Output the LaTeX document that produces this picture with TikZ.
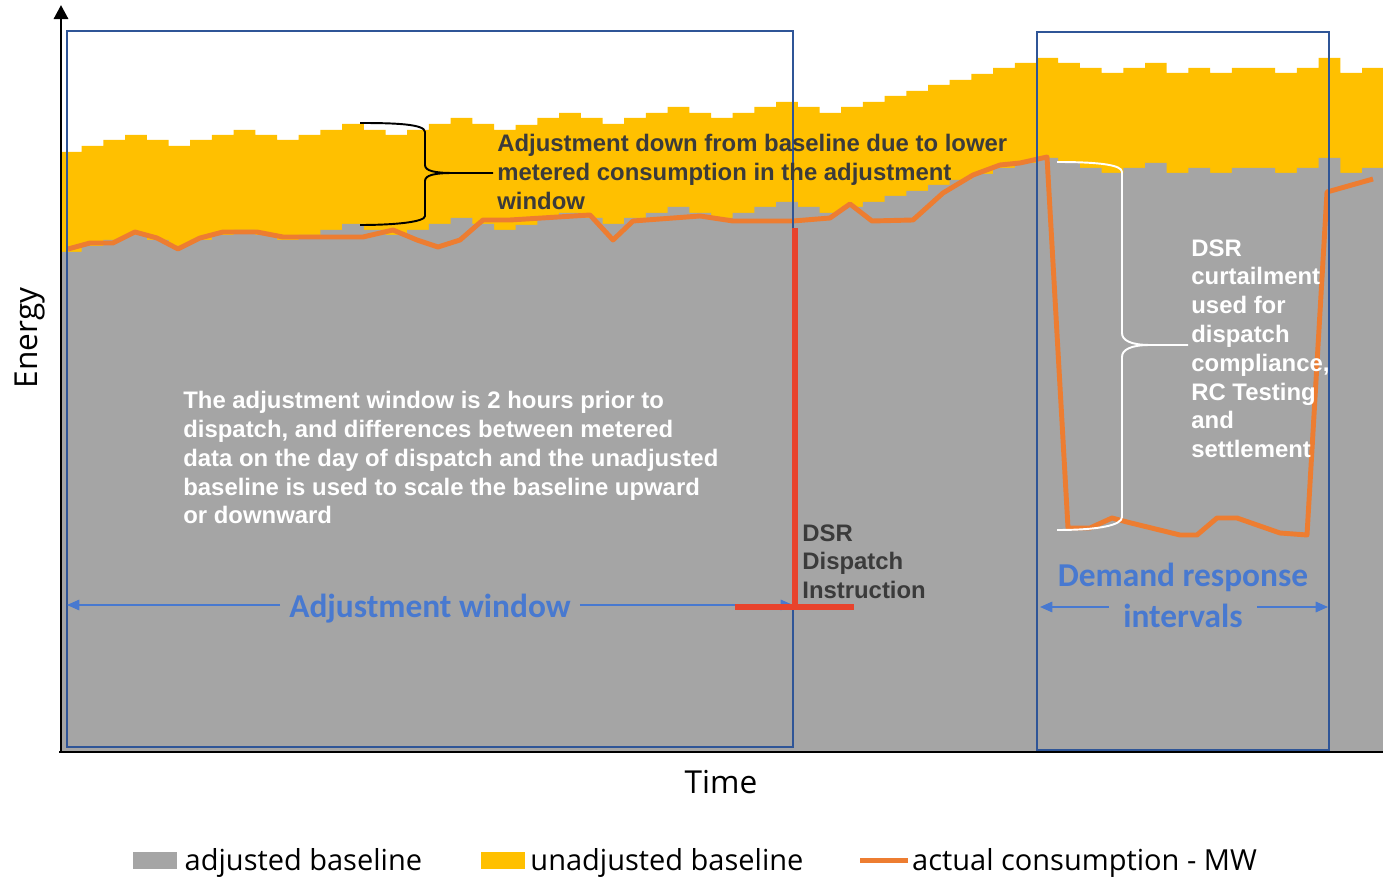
\documentclass[tikz,border=0pt]{standalone}
\usepackage{fontspec}
\setmainfont{Liberation Sans}
\newfontfamily\carlito{Carlito}
\newfontfamily\opensans{Open Sans}
\usetikzlibrary{arrows.meta, positioning}
\definecolor{ubase}{RGB}{255,192,0}
\definecolor{abase}{RGB}{165,165,165}
\definecolor{actual}{RGB}{237,125,49}
\definecolor{dsrred}{RGB}{232,67,44}
\definecolor{winblue}{RGB}{47,85,151}
\definecolor{lblblue}{RGB}{72,121,208}
\definecolor{darktext}{RGB}{59,59,59}
\begin{document}
\begin{tikzpicture}[
    x=0.02cm, y=-0.02cm,
    note/.style={anchor=north west, inner sep=0pt, align=left, font=\bfseries\fontsize{13.6}{16.4}\selectfont},
    bluelabel/.style={text=lblblue, inner ysep=0pt, inner xsep=5pt, font=\carlito\bfseries\fontsize{19}{22}\selectfont},
    window/.style={draw=winblue, line width=1.1pt},
    span/.style={draw=lblblue, line width=0.8pt, -{Triangle[length=7pt, width=6pt]}},
    dsrmark/.style={draw=dsrred, line width=3.3pt},
    axis/.style={line width=1.7pt},
    axislabel/.style={font=\opensans\fontsize{18}{20}\selectfont},
    legendkey/.style={inner sep=0pt, minimum width=0.88cm, minimum height=0.34cm},
    legendtext/.style={inner sep=0pt, font=\opensans\fontsize{16.5}{18}\selectfont},
    brace/.style={line width=1.1pt}
]
\useasboundingbox (0,0) rectangle (1383,881);

% baseline profiles
\def\tops{152,146,140,135,140,146,140,135,130,135,140,135,130,124,130,135,130,124,118,124,
  130,125,118,113,118,124,118,113,107,113,118,113,107,102,107,113,107,102,96,91,
  85,80,74,68,63,58,63,68,73,68,63,73,68,73,68,68,73,68,58,73,68}
\fill[ubase] (62,752) \foreach \t [count=\k from 0] in \tops
  { -- ({max(62,60+21.7*\k)},\t) -- ({60+21.7*(\k+1)},\t) } -- (1383,752) -- cycle;
\fill[abase] (62,752) \foreach \t [count=\k from 0] in \tops
  { -- ({max(62,60+21.7*\k)},{\t+100}) -- ({60+21.7*(\k+1)},{\t+100}) } -- (1383,752) -- cycle;

\draw[actual, line width=2.8pt, line join=round] plot coordinates {
  (68,249) (90,243) (113,243) (135,232) (157,238) (178,249) (200,238) (223,232)
  (257,232) (283,237) (323,237) (363,237) (393,230) (417,240) (438,247) (460,240)
  (483,220) (510,220) (590,215) (613,240) (633,221) (700,216) (733,221) (793,221)
  (830,218) (850,204) (872,221) (913,220) (943,193) (973,175) (1000,165) (1020,163)
  (1047,157) (1068,528) (1090,528) (1112,518) (1127,522) (1180,535) (1197,535)
  (1217,518) (1237,518) (1280,533) (1307,535) (1327,192) (1373,179)};

\draw[window] (67,31) rectangle (793,747);
\draw[window] (1037,32) rectangle (1329,750);

\node[bluelabel] (awlabel) at (430,609) {Adjustment window};
\coordinate (awl) at (67,605);
\coordinate (awr) at (793,605);
\draw[span] (awlabel.west |- awl) -- (awl);
\draw[span] (awlabel.east |- awr) -- (awr);

\node[bluelabel] (drtop) at (1183,577) {Demand response};
\node[bluelabel, inner xsep=8pt] (drint) at (1183,616) {intervals};
\coordinate (drl) at (1040,607);
\coordinate (drr) at (1328,607);
\draw[span] (drint.west |- drl) -- (drl);
\draw[span] (drint.east |- drr) -- (drr);

\coordinate (dsrtop) at (795,228);
\coordinate (dsrfoot) at (795,607);
\coordinate (dsrleft) at (735,607);
\coordinate (dsrright) at (854,607);
\draw[dsrmark] (dsrtop) -- (dsrfoot);
\draw[dsrmark] (dsrleft) -- (dsrright);

\node[note, text=darktext] (adjnote) at (497,134) {Adjustment down from baseline due to lower\\metered consumption in the adjustment\\window};
\node[note, text=white] (winnote) at (183,391) {The adjustment window is 2 hours prior to\\dispatch, and differences between metered\\data on the day of dispatch and the unadjusted\\baseline is used to scale the baseline upward\\or downward};
\node[note, text=darktext] (dsrnote) at (802,524) {DSR\\Dispatch\\Instruction};
\node[note, text=white] (curtnote) at (1191,239) {DSR\\curtailment\\used for\\dispatch\\compliance,\\RC Testing\\and\\settlement};

\coordinate (adjtip) at (493,173);
\draw[brace] (360,123) .. controls (395,123) and (425,124) .. (425,132) -- (425,165)
  .. controls (425,171) and (435,173) .. (453,173) -- (adjtip);
\draw[brace] (453,173) .. controls (435,173) and (425,175) .. (425,181) -- (425,216)
  .. controls (425,222) and (395,225) .. (360,225);

\coordinate (curttip) at (1188,345);
\draw[brace, white] (1057,162) .. controls (1100,162) and (1122,165) .. (1122,172) -- (1122,333)
  .. controls (1122,340) and (1130,345) .. (1150,345) -- (curttip);
\draw[brace, white] (1150,345) .. controls (1130,345) and (1122,350) .. (1122,357) -- (1122,517)
  .. controls (1122,525) and (1100,530) .. (1057,530);

\coordinate (origin) at (61,752);
\coordinate (ytop) at (61,5);
\coordinate (xend) at (1383,752);
\draw[axis, -{Triangle[length=8pt, width=8pt]}] (origin) -- (ytop);
\draw[axis] ([xshift=-1pt]origin) -- (xend);
\node[axislabel] (tlabel) at (721,782) {Time};
\node[axislabel, rotate=90] (elabel) at (30,338) {Energy};

\node[legendkey, fill=abase] (keyadj) at (155,860.5) {};
\node[legendtext, right=4pt of keyadj, yshift=-1.5pt] (txtadj) {adjusted baseline};
\node[legendkey, fill=ubase] (keyunadj) at (502.5,860.5) {};
\node[legendtext, right=3pt of keyunadj, yshift=-1.5pt] (txtunadj) {unadjusted baseline};
\node[legendkey, fill=actual, minimum width=0.96cm, minimum height=0.1cm] (keyact) at (884,860) {};
\node[legendtext, right=2pt of keyact, yshift=-1.5pt] (txtact) {actual consumption - MW};
\end{tikzpicture}
\end{document}
